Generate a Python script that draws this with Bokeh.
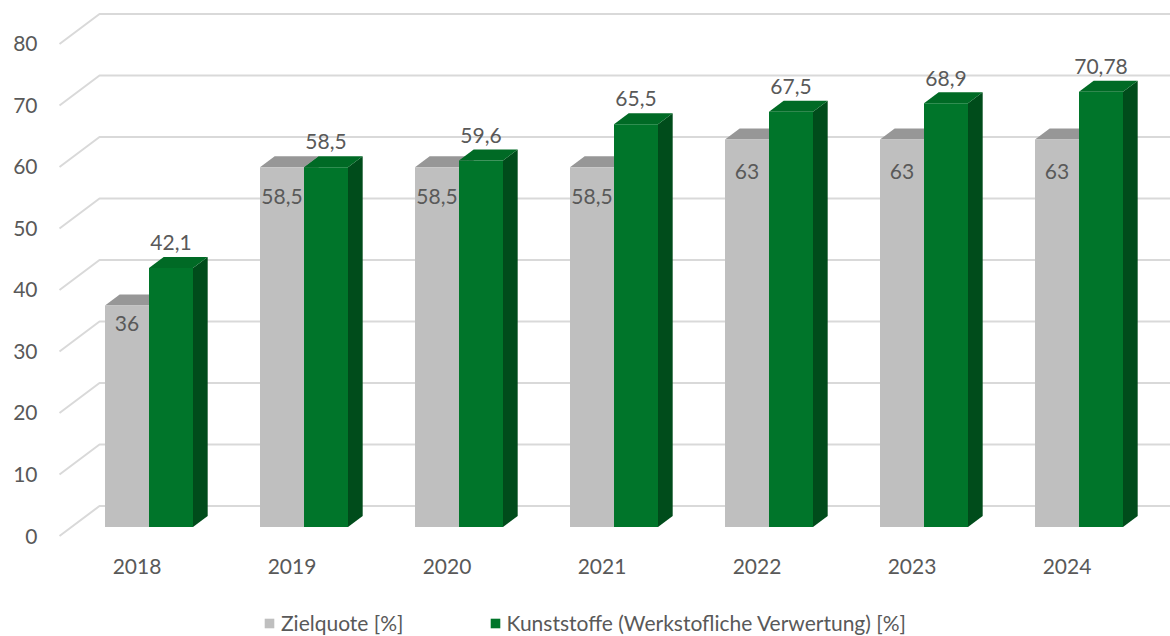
from bokeh.plotting import figure
from bokeh.models import FixedTicker, Legend, LegendItem
from bokeh.embed import file_html
from bokeh.resources import INLINE
from bokeh.core.properties import value

# ---------------- data ----------------
years = ["2018", "2019", "2020", "2021", "2022", "2023", "2024"]
zielquote = [36, 58.5, 58.5, 58.5, 63, 63, 63]
kunststoffe = [42.1, 58.5, 59.6, 65.5, 67.5, 68.9, 70.78]
zielquote_labels = ["36", "58,5", "58,5", "58,5", "63", "63", "63"]
kunststoffe_labels = ["42,1", "58,5", "59,6", "65,5", "67,5", "68,9", "70,78"]
y_ticks = [0, 10, 20, 30, 40, 50, 60, 70, 80]
series_names = ["Zielquote [%]", "Kunststoffe (Werkstofliche Verwertung) [%]"]

# ---------------- style / 3D geometry ----------------
FONT = "Lato"
TXT = "#595959"
DX = 40 / 155.0      # full depth shift in category units
DY = 30 / 6.15       # full depth shift in value units
D1, D2 = 0.30, 0.667 # bar front / back depth
BAR_W = 44 / 155.0
GRID = "#D9D9D9"

p = figure(width=1170, height=636, output_backend="svg", toolbar_location=None,
           x_range=(-0.5581, 6.6677), y_range=(-16.34, 87.07),
           min_border_left=50, min_border_right=0, min_border_top=0, min_border_bottom=0)
p.outline_line_color = None
p.xgrid.visible = False
p.ygrid.visible = False
p.xaxis.visible = False
p.background_fill_color = "white"
p.border_fill_color = "white"

ya = p.yaxis[0]
ya.ticker = FixedTicker(ticks=y_ticks)
ya.axis_line_color = None
ya.major_tick_line_color = None
ya.minor_tick_line_color = None
ya.major_tick_out = 0
ya.major_tick_in = 0
ya.major_label_standoff = 13
ya.major_label_text_font = FONT
ya.major_label_text_font_size = "21px"
ya.major_label_text_color = TXT

# back wall grid lines (slanted left part + horizontal back part)
gx, gy = [], []
for v in y_ticks:
    gx.append([-0.5, -0.5 + DX, 7.2])
    gy.append([v, v + DY, v + DY])
p.multi_line(xs=gx, ys=gy, line_color=GRID, line_width=2)

ddx = DX * (D2 - D1)
ddy = DY * (D2 - D1)
yb = DY * D1


def faces(lefts, vals):
    fr_x, fr_y, tp_x, tp_y, sd_x, sd_y = [], [], [], [], [], []
    for x0, v in zip(lefts, vals):
        x1 = x0 + BAR_W
        yt = v + yb
        fr_x.append([x0, x1, x1, x0]); fr_y.append([yb, yb, yt, yt])
        tp_x.append([x0, x1, x1 + ddx, x0 + ddx]); tp_y.append([yt, yt, yt + ddy, yt + ddy])
        sd_x.append([x1, x1 + ddx, x1 + ddx, x1]); sd_y.append([yb, yb + ddy, yt + ddy, yt])
    return fr_x, fr_y, tp_x, tp_y, sd_x, sd_y


idx = list(range(len(years)))
gray_left = [k - BAR_W + DX * D1 for k in idx]
green_left = [k + DX * D1 for k in idx]

renderers = []
for lefts, vals, cols in [(gray_left, zielquote, ("#BFBFBF", "#979797", "#8C8C8C")),
                          (green_left, kunststoffe, ("#00752A", "#006A25", "#004C1B"))]:
    fx, fy, tx, ty, sx, sy = faces(lefts, vals)
    p.patches(xs=sx, ys=sy, fill_color=cols[2], line_color=None)
    p.patches(xs=tx, ys=ty, fill_color=cols[1], line_color=None)
    r = p.patches(xs=fx, ys=fy, fill_color=cols[0], line_color=None)
    renderers.append(r)

# data labels
p.text(x=[x + BAR_W / 2 for x in gray_left], y=[0.918 * v + yb for v in zielquote],
       text=zielquote_labels, text_font=value(FONT), text_font_size="21px",
       text_color=TXT, text_align="center", text_baseline="middle")
p.text(x=[x + BAR_W / 2 for x in green_left], y=[v + 4.1 + yb for v in kunststoffe],
       text=kunststoffe_labels, text_font=value(FONT), text_font_size="21px",
       text_color=TXT, text_align="center", text_baseline="middle")

# category labels
p.text(x=idx, y=[-4.96] * len(idx), text=years, text_font=value(FONT), text_font_size="21px",
       text_color=TXT, text_align="center", text_baseline="middle")

legend = Legend(items=[LegendItem(label=series_names[0], renderers=[renderers[0]]),
                       LegendItem(label=series_names[1], renderers=[renderers[1]])],
                orientation="horizontal", location=(213, 1),
                glyph_width=12, glyph_height=12, label_standoff=6, spacing=85,
                padding=0, margin=0, border_line_color=None, background_fill_alpha=0,
                label_text_font=FONT, label_text_color=TXT, label_text_font_size="21px",
                label_height=12)
p.add_layout(legend)

open("out.html", "w").write(file_html(p, INLINE))
